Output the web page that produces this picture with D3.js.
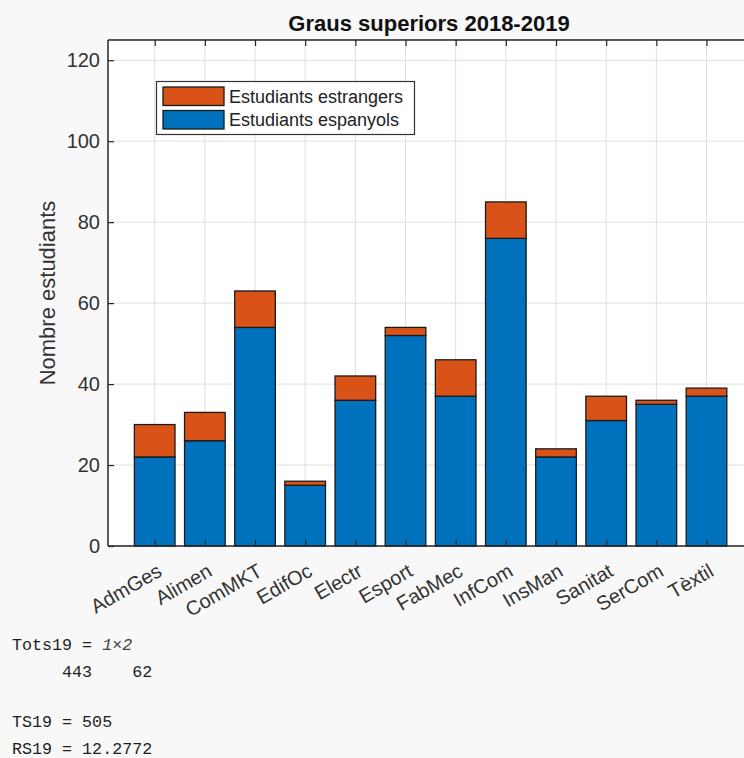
<!DOCTYPE html>
<html>
<head>
<meta charset="utf-8">
<script src="https://cdn.jsdelivr.net/npm/d3@7"></script>
<style>
  html, body { margin: 0; padding: 0; background: #f8f8f8; }
  svg { display: block; }
</style>
</head>
<body>
<script>
// ---- data ----
const categories = ["AdmGes","Alimen","ComMKT","EdifOc","Electr","Esport","FabMec","InfCom","InsMan","Sanitat","SerCom","Tèxtil"];
const spanish = [22,26,54,15,36,52,37,76,22,31,35,37];
const foreign = [8,7,9,1,6,2,9,9,2,6,1,2];
const yTicks = [0,20,40,60,80,100,120];
const seriesNames = ["Estudiants estrangers","Estudiants espanyols"];
const titleText = "Graus superiors 2018-2019";
const yLabelText = "Nombre estudiants";
const totsValues = [443, 62];
const tsValue = 505;
const rsValue = "12.2772";

// ---- layout ----
const W = 744, H = 758;
const pLeft = 108, pTop = 40, pBottom = 546, pRight = 770;
const blue = "#0072BD", orange = "#D95319";
const axisColor = "#262626", gridColor = "#dfdfdf", textColor = "#333333";
const sansFont = "'Liberation Sans', Arial, Helvetica, sans-serif";

const svg = d3.select("body").append("svg").attr("width", W).attr("height", H);
svg.append("rect").attr("width", W).attr("height", H).attr("fill", "#f8f8f8");

const x = d3.scalePoint().domain(categories).range([154.7, 706.5]);
const bw = x.step() * 0.81;
const y = d3.scaleLinear().domain([0, 125]).range([pBottom, pTop]);

// axes background
svg.append("rect").attr("x", pLeft).attr("y", pTop).attr("width", pRight - pLeft).attr("height", pBottom - pTop).attr("fill", "#ffffff");

// grid
const grid = svg.append("g");
grid.selectAll("line.h").data(yTicks).join("line").attr("class", "h")
  .attr("x1", pLeft).attr("x2", pRight).attr("y1", d => y(d)).attr("y2", d => y(d))
  .attr("stroke", gridColor).attr("stroke-width", 1);
grid.selectAll("line.v").data(categories).join("line").attr("class", "v")
  .attr("x1", d => x(d)).attr("x2", d => x(d)).attr("y1", pTop).attr("y2", pBottom)
  .attr("stroke", gridColor).attr("stroke-width", 1);

// bars (stacked)
const rows = categories.map((c, i) => ({cat: c, esp: spanish[i], est: foreign[i]}));
const stack = d3.stack().keys(["esp", "est"])(rows);
const colors = {esp: blue, est: orange};
svg.append("g").selectAll("g").data(stack).join("g")
  .attr("fill", d => colors[d.key])
  .selectAll("rect").data(d => d).join("rect")
  .attr("x", d => x(d.data.cat) - bw / 2)
  .attr("width", bw)
  .attr("y", d => y(d[1]))
  .attr("height", d => y(d[0]) - y(d[1]))
  .attr("stroke", "#1a1a1a").attr("stroke-width", 1.3);

// left axis
const yAxis = svg.append("g").attr("transform", `translate(${pLeft},0)`)
  .call(d3.axisLeft(y).tickValues(yTicks).tickSizeInner(-6).tickSizeOuter(0).tickPadding(8));
yAxis.select(".domain").remove();
yAxis.selectAll(".tick line").attr("stroke", axisColor).attr("stroke-width", 1.2);
yAxis.selectAll(".tick text").attr("font-family", sansFont).attr("font-size", 20).attr("fill", textColor);

// bottom axis
const xAxis = svg.append("g").attr("transform", `translate(0,${pBottom})`)
  .call(d3.axisBottom(x).tickSizeInner(-6).tickSizeOuter(0));
xAxis.select(".domain").remove();
xAxis.selectAll(".tick line").attr("stroke", axisColor).attr("stroke-width", 1.2);
xAxis.selectAll(".tick text")
  .attr("y", null).attr("dy", null).attr("x", null)
  .attr("text-anchor", "end")
  .attr("transform", "translate(8,29) rotate(-30)")
  .attr("font-family", sansFont).attr("font-size", 20).attr("fill", textColor);

// top axis ticks
const tAxis = svg.append("g").attr("transform", `translate(0,${pTop})`)
  .call(d3.axisTop(x).tickSizeInner(-6).tickSizeOuter(0).tickFormat(""));
tAxis.select(".domain").remove();
tAxis.selectAll(".tick line").attr("stroke", axisColor).attr("stroke-width", 1.2);

// axis lines
svg.append("line").attr("x1", pLeft).attr("x2", pLeft).attr("y1", pTop).attr("y2", pBottom)
  .attr("stroke", axisColor).attr("stroke-width", 1.5);
svg.append("line").attr("x1", pLeft).attr("x2", pRight).attr("y1", pBottom).attr("y2", pBottom)
  .attr("stroke", axisColor).attr("stroke-width", 1.5);
svg.append("line").attr("x1", pLeft).attr("x2", pRight).attr("y1", pTop).attr("y2", pTop)
  .attr("stroke", axisColor).attr("stroke-width", 1.5);

// title
svg.append("text").attr("x", 429).attr("y", 31).attr("text-anchor", "middle")
  .attr("font-family", sansFont).attr("font-size", 22).attr("font-weight", "bold")
  .attr("fill", "#111").text(titleText);

// y label
svg.append("text").attr("transform", `translate(55,${(pTop + pBottom) / 2}) rotate(-90)`)
  .attr("text-anchor", "middle")
  .attr("font-family", sansFont).attr("font-size", 22).attr("fill", textColor).text(yLabelText);

// legend
const lg = svg.append("g");
lg.append("rect").attr("x", 156.5).attr("y", 81.5).attr("width", 258).attr("height", 53)
  .attr("fill", "#fff").attr("stroke", "#333").attr("stroke-width", 1.2);
const legendItems = [{name: seriesNames[0], color: orange}, {name: seriesNames[1], color: blue}];
legendItems.forEach((it, i) => {
  const yy = 87 + i * 23.5;
  lg.append("rect").attr("x", 163).attr("y", yy).attr("width", 61).attr("height", 18.5)
    .attr("fill", it.color).attr("stroke", "#1a1a1a").attr("stroke-width", 1.3);
  lg.append("text").attr("x", 229).attr("y", yy + 15.7)
    .attr("font-family", sansFont).attr("font-size", 18).attr("fill", "#222").text(it.name);
});

// console output
const mono = "'Liberation Mono', 'DejaVu Sans Mono', monospace";
const con = svg.append("g").attr("font-family", mono).attr("font-size", 16.7).attr("fill", "#1e1e1e");
const t1 = con.append("text").attr("x", 12).attr("y", 650).style("white-space", "pre");
t1.append("tspan").text("Tots19 = ");
t1.append("tspan").attr("font-style", "italic").attr("fill", "#444").text("1\u00d72");
con.append("text").attr("x", 12).attr("y", 677).style("white-space", "pre")
  .text("     " + totsValues[0] + "    " + totsValues[1]);
con.append("text").attr("x", 12).attr("y", 727).style("white-space", "pre").text("TS19 = " + tsValue);
con.append("text").attr("x", 12).attr("y", 754).style("white-space", "pre").text("RS19 = " + rsValue);
</script>
</body>
</html>
